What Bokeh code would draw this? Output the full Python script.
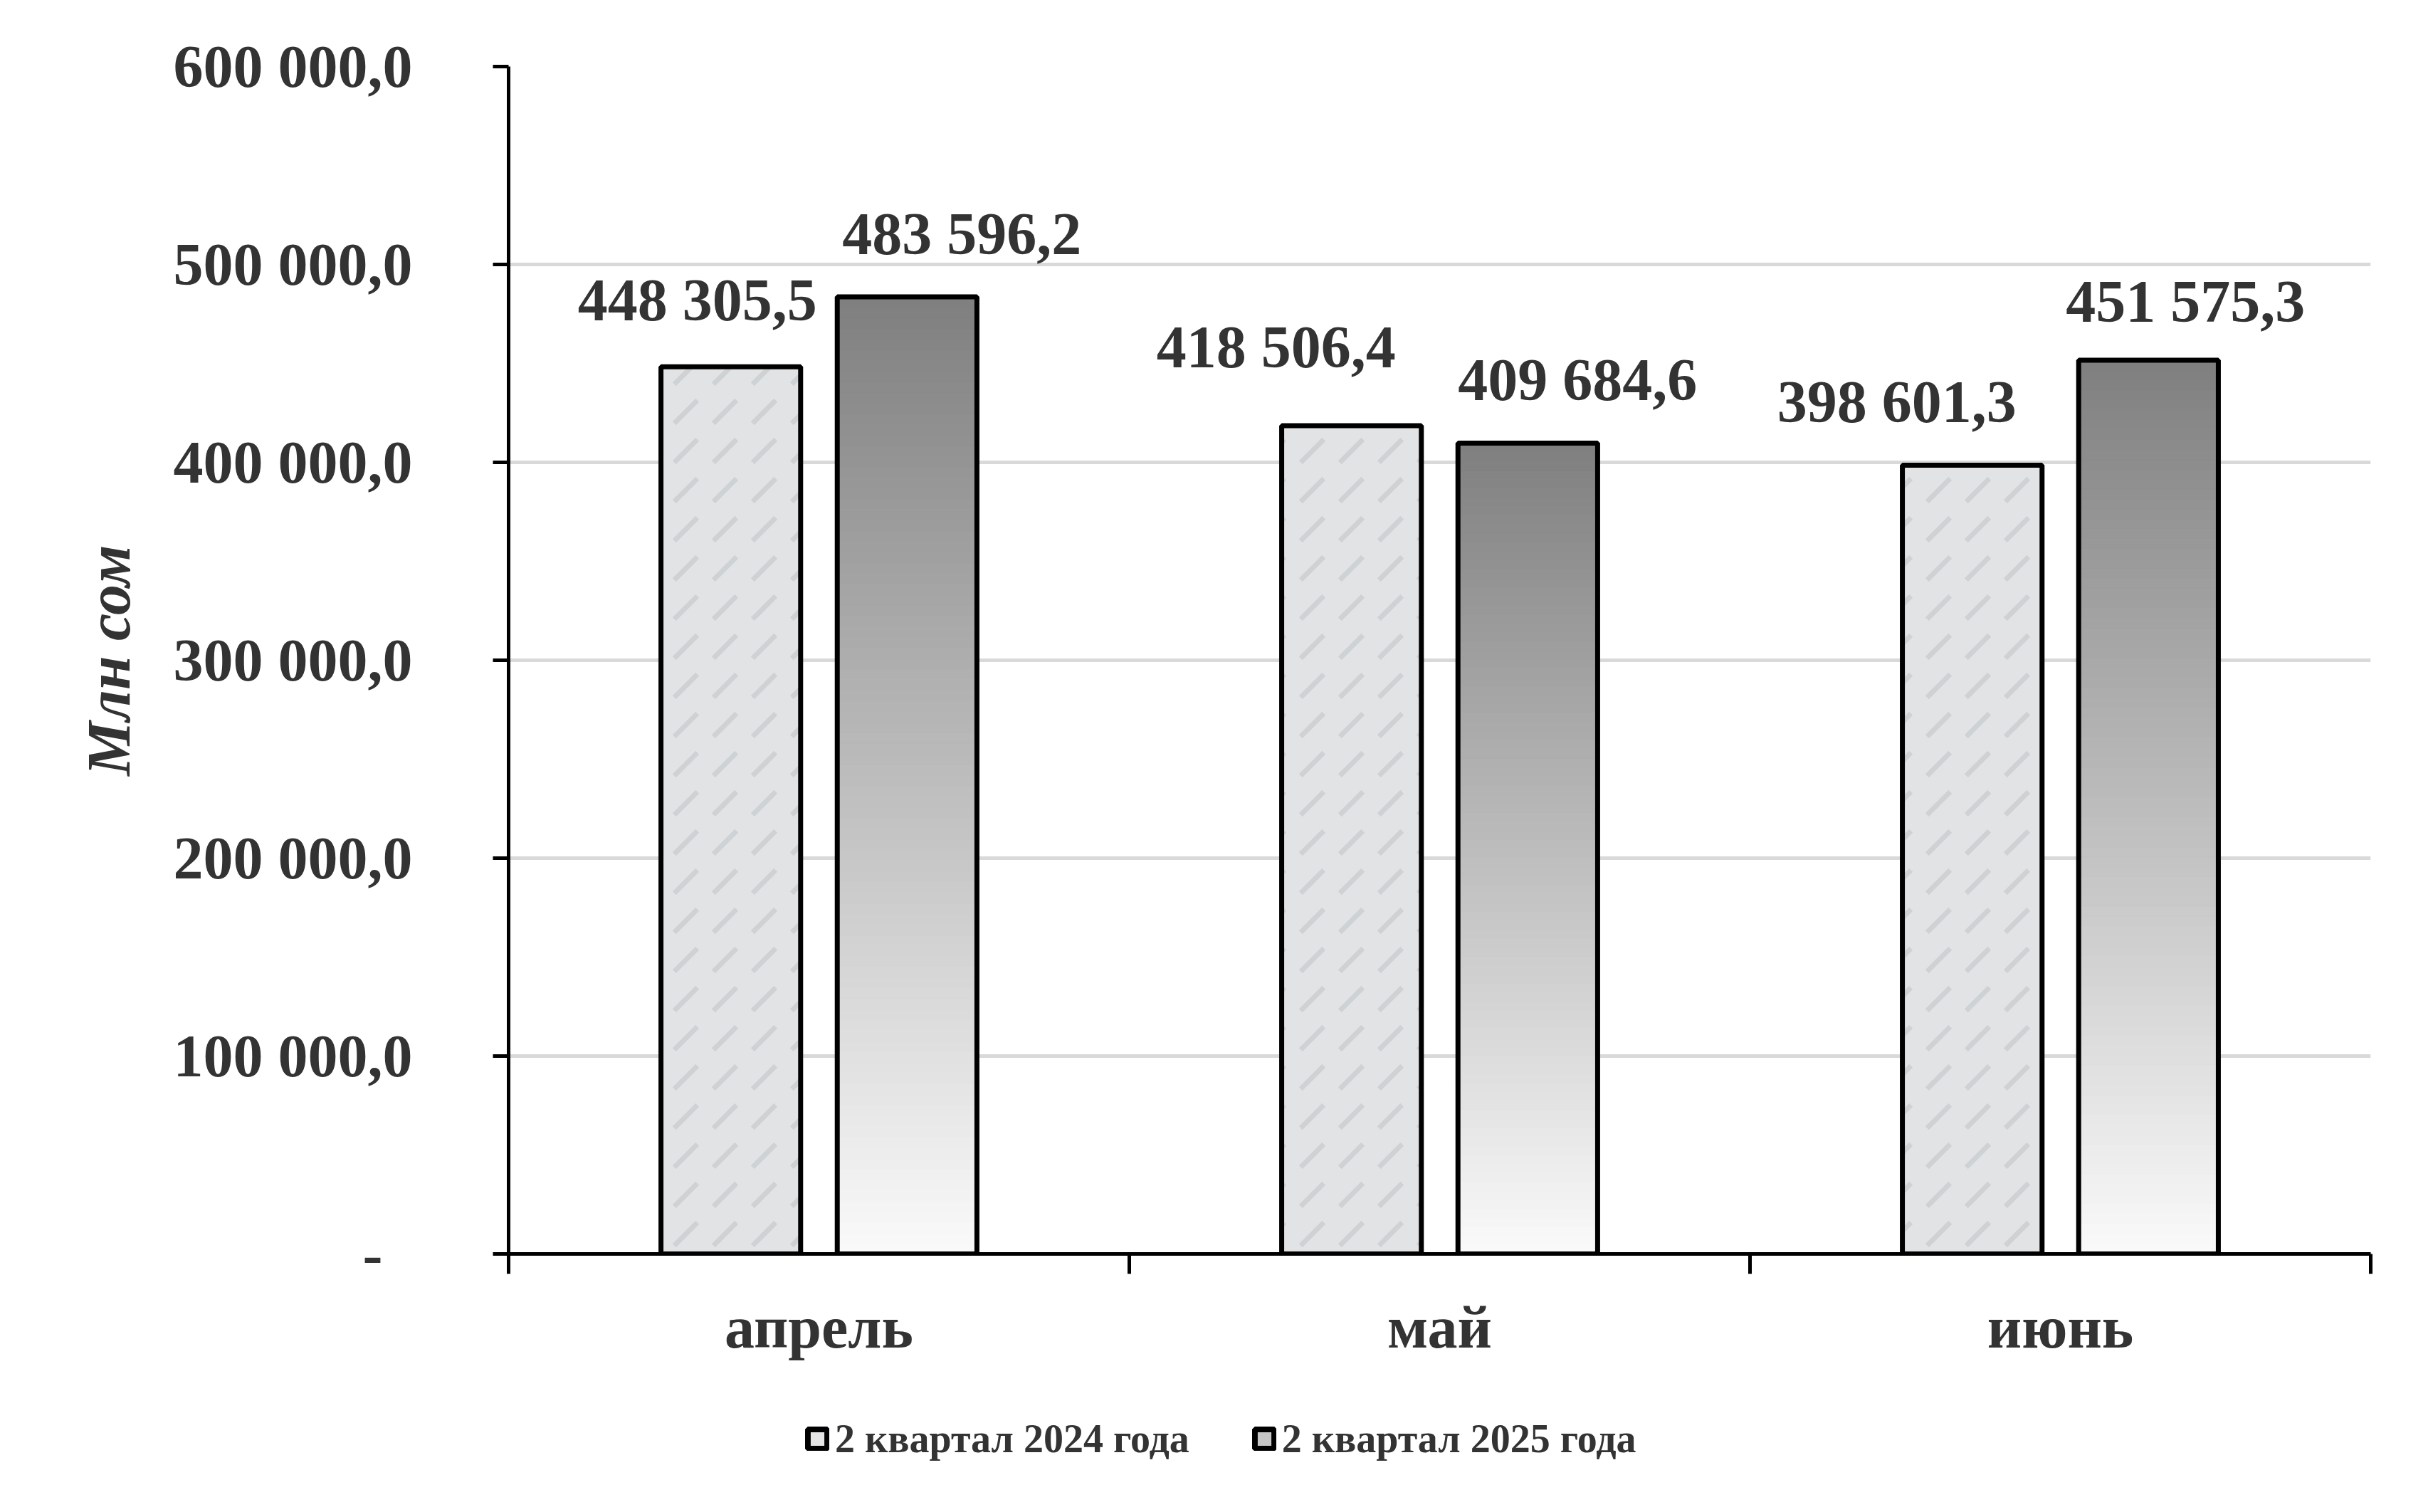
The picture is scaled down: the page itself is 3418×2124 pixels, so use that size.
import numpy as np
from bokeh.plotting import figure
from bokeh.layouts import column
from bokeh.models import ColumnDataSource, Range1d, FixedTicker, Legend, LegendItem
from bokeh.embed import file_html
from bokeh.resources import INLINE
from bokeh.core.properties import value

# ---------------- data ----------------
months = ["апрель", "май", "июнь"]
series_names = ["2 квартал 2024 года", "2 квартал 2025 года"]
values_2024 = [448305.5, 418506.4, 398601.3]
values_2025 = [483596.2, 409684.6, 451575.3]
y_ticks = [0, 100000, 200000, 300000, 400000, 500000, 600000]
y_axis_title = "Млн сом"

# ---------------- style ----------------
FONT = "Liberation Serif"
TXT = "#333333"
FS = "84px"
BAR_W = 0.225
OFF = 0.142
MARBLE = "#e1e3e5"
GRAD_TOP = np.array([127, 127, 127])
GRAD_BOT = np.array([250, 250, 250])
NSLICE = 90
W = 3402
H_MAIN = 1940
H_LEG = 168
FRAME_LEFT = 714
# label placement (screen px) as positioned in the source chart
LBL_DX_24 = [-47, -106, -106]
LBL_DY_24 = [-94, -111, -89]
LBL_DX_25 = [77, 70, 52]
LBL_DY_25 = [-89, -89, -83]


def fmt_num(v):
    s = f"{v:,.1f}"
    return s.replace(",", " ").replace(".", ",")


def fmt_tick(v):
    return "-\u00a0\u00a0" if v == 0 else fmt_num(v)


idx = np.arange(len(months))
x24 = idx + 0.5 - OFF
x25 = idx + 0.5 + OFF

p = figure(width=W, height=H_MAIN, x_range=Range1d(0, 3), y_range=Range1d(0, 600000),
           output_backend="svg", toolbar_location=None,
           min_border_left=FRAME_LEFT, min_border_right=72, min_border_top=93,
           min_border_bottom=H_MAIN - 1761)
p.outline_line_color = None
p.background_fill_color = "white"
p.border_fill_color = "white"

# grid
p.xgrid.visible = False
p.ygrid.ticker = FixedTicker(ticks=y_ticks)
p.ygrid.grid_line_color = "#d9d9d9"
p.ygrid.grid_line_width = 5

# 2024 bars (marble-like light fill)
src24 = ColumnDataSource(dict(x=x24, top=values_2024))
p.vbar(x="x", top="top", width=BAR_W, bottom=0, source=src24,
       fill_color=MARBLE, line_color="black", line_width=7,
       hatch_pattern="right_diagonal_dash", hatch_color="#aeb2b5",
       hatch_alpha=0.35, hatch_scale=55, hatch_weight=7)

# 2025 bars: vertical gradient (dark top -> light bottom), sliced relative to each bar's height
gl, gr, gb, gt, gc = [], [], [], [], []
for xc, v in zip(x25, values_2025):
    for k in range(NSLICE):
        t = (k + 0.5) / NSLICE
        c = GRAD_BOT * (1 - t) + GRAD_TOP * t
        gl.append(xc - BAR_W / 2)
        gr.append(xc + BAR_W / 2)
        gb.append(v * k / NSLICE)
        gt.append(v * (k + 1) / NSLICE)
        gc.append("#%02x%02x%02x" % tuple(int(round(q)) for q in c))
p.quad(left=gl, right=gr, bottom=gb, top=gt, fill_color=gc, line_color=gc, line_width=1)
p.vbar(x=x25, top=values_2025, width=BAR_W, bottom=0,
       fill_alpha=0, line_color="black", line_width=7)

# value labels
p.text(x=x24, y=values_2024, text=[fmt_num(v) for v in values_2024],
       x_offset=LBL_DX_24, y_offset=LBL_DY_24, text_align="center", text_baseline="middle",
       text_font=value(FONT), text_font_style="bold", text_font_size=FS, text_color=TXT)
p.text(x=x25, y=values_2025, text=[fmt_num(v) for v in values_2025],
       x_offset=LBL_DX_25, y_offset=LBL_DY_25, text_align="center", text_baseline="middle",
       text_font=value(FONT), text_font_style="bold", text_font_size=FS, text_color=TXT)

# y axis
ya = p.yaxis[0]
ya.ticker = FixedTicker(ticks=y_ticks)
ya.major_label_overrides = {t: fmt_tick(t) for t in y_ticks}
ya.axis_line_width = 5
ya.axis_line_color = "black"
ya.major_tick_line_width = 5
ya.major_tick_line_color = "black"
ya.major_tick_out = 22
ya.major_tick_in = 0
ya.minor_tick_line_color = None
ya.major_label_standoff = 113
ya.major_label_text_font = FONT
ya.major_label_text_font_style = "bold"
ya.major_label_text_font_size = FS
ya.major_label_text_color = TXT
ya.axis_label = y_axis_title
ya.axis_label_text_font = FONT
ya.axis_label_text_font_style = "bold italic"
ya.axis_label_text_font_size = "86px"
ya.axis_label_text_color = TXT
ya.axis_label_standoff = 40

# x axis: labels at category centres, ticks at category boundaries
xa = p.xaxis[0]
xa.ticker = FixedTicker(ticks=[i + 0.5 for i in idx], minor_ticks=list(range(len(months) + 1)))
xa.major_label_overrides = {float(i + 0.5): m for i, m in zip(idx, months)}
xa.axis_line_width = 5
xa.axis_line_color = "black"
xa.major_tick_out = 0
xa.major_tick_in = 0
xa.minor_tick_out = 28
xa.minor_tick_in = 0
xa.minor_tick_line_width = 5
xa.minor_tick_line_color = "black"
xa.major_label_standoff = 28
xa.major_label_text_font = FONT
xa.major_label_text_font_style = "bold"
xa.major_label_text_font_size = FS
xa.major_label_text_color = TXT

# ---------------- legend strip below the chart ----------------
pl = figure(width=W, height=H_LEG, x_range=Range1d(0, 1), y_range=Range1d(0, 1),
            x_axis_type=None, y_axis_type=None, output_backend="svg", toolbar_location=None,
            min_border=0)
pl.outline_line_color = None
pl.xgrid.visible = False
pl.ygrid.visible = False
# swatch-only renderers (no drawable points); only their legend icons are shown
leg24 = pl.vbar(x=[np.nan], top=[np.nan], width=0.1, fill_color="#e3e4e6", line_color="black", line_width=8)
leg25 = pl.vbar(x=[np.nan], top=[np.nan], width=0.1, fill_color="#c6c6c6", line_color="black", line_width=8)
legend = Legend(items=[LegendItem(label=series_names[0], renderers=[leg24]),
                       LegendItem(label=series_names[1], renderers=[leg25])],
                orientation="horizontal", location=(1131 - FRAME_LEFT, 55),
                glyph_width=34, glyph_height=34, label_standoff=8, spacing=88,
                padding=0, margin=0, border_line_alpha=0, background_fill_alpha=0,
                label_text_font=FONT, label_text_font_style="bold",
                label_text_font_size="56px", label_text_color=TXT, label_height=34)
pl.add_layout(legend)

open("out.html", "w").write(file_html(column(p, pl, spacing=0), INLINE))
